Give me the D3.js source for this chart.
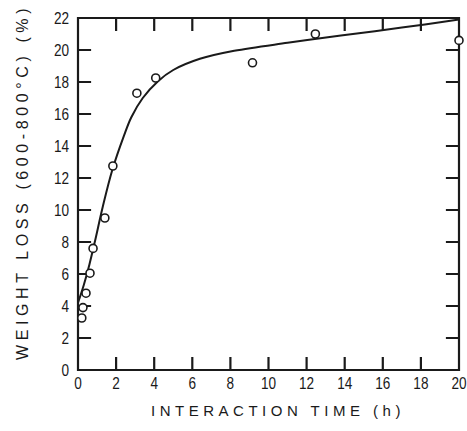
<!DOCTYPE html>
<html>
<head>
<meta charset="utf-8">
<script src="https://cdn.jsdelivr.net/npm/d3@7"></script>
<style>
  html, body { margin: 0; padding: 0; background: #fff; }
  svg { display: block; color: #1a1a1a; }
</style>
</head>
<body>
<svg id="chart" width="467" height="431"></svg>
<script>
// ---- data ----
const pointTime = [0.2, 0.26, 0.42, 0.63, 0.79, 1.41, 1.83, 3.09, 4.08, 9.16, 12.46, 20.0];
const pointLoss = [3.25, 3.9, 4.8, 6.05, 7.6, 9.5, 12.75, 17.3, 18.25, 19.2, 21.0, 20.6];
const curveTime = [0, 0.3, 0.6, 0.9, 1.3, 1.8, 2.4, 2.8, 3.4, 4.2, 5, 6.4, 8.2, 11, 13.8, 17, 20];
const curveLoss = [4.2, 5.3, 6.6, 8.1, 10.2, 12.5, 14.6, 15.8, 17.0, 18.05, 18.75, 19.45, 19.95, 20.45, 20.9, 21.4, 21.9];
const xTicks = [0, 2, 4, 6, 8, 10, 12, 14, 16, 18, 20];
const yTicks = [0, 2, 4, 6, 8, 10, 12, 14, 16, 18, 20, 22];
const xTitle = "INTERACTION TIME (h)";
const yTitle = "WEIGHT LOSS (600-800°C) (%)";

(function () {
const pl = 78, pr = 459, pt = 18, pb = 370;
const svg = d3.select("#chart");
const x = d3.scaleLinear().domain([0, 20]).range([pl, pr]);
const y = d3.scaleLinear().domain([0, 22]).range([pb, pt]);

const ink = "#1a1a1a";
const tickLen = 12;
const inner = xTicks.slice(1, -1);
const innerY = yTicks.slice(1, -1);

// frame + inward ticks in one path, positions from the scales
const p = d3.path();
p.moveTo(pl, pt); p.lineTo(pr, pt); p.lineTo(pr, pb); p.lineTo(pl, pb); p.closePath();
inner.forEach(t => {
  p.moveTo(x(t), pb); p.lineTo(x(t), pb - tickLen);
  p.moveTo(x(t), pt); p.lineTo(x(t), pt + tickLen);
});
innerY.forEach(t => {
  p.moveTo(pl, y(t)); p.lineTo(pl + tickLen, y(t));
  p.moveTo(pr, y(t)); p.lineTo(pr - tickLen, y(t));
});
svg.append("path")
  .attr("d", p.toString())
  .attr("fill", "none").attr("stroke", ink).attr("stroke-width", 2.2)
  .attr("stroke-linecap", "square");

// tick labels (condensed look)
const sx = 0.8;
svg.append("g").selectAll("text").data(xTicks).join("text")
  .attr("transform", d => `translate(${x(d)},${pb + 19}) scale(${sx},1)`)
  .attr("text-anchor", "middle")
  .attr("font-family", "'Liberation Sans', Arial, sans-serif")
  .attr("font-size", 17).attr("fill", ink)
  .text(d => d);
svg.append("g").selectAll("text").data(yTicks).join("text")
  .attr("transform", d => `translate(${pl - 9},${y(d) + 6}) scale(${sx},1)`)
  .attr("text-anchor", "end")
  .attr("font-family", "'Liberation Sans', Arial, sans-serif")
  .attr("font-size", 17).attr("fill", ink)
  .text(d => d);

// axis titles
svg.append("text")
  .attr("x", 278).attr("y", 416)
  .attr("text-anchor", "middle")
  .attr("font-family", "'Liberation Sans', Arial, sans-serif")
  .attr("font-size", 15).attr("letter-spacing", 4.5).attr("fill", ink)
  .text(xTitle);
svg.append("text")
  .attr("transform", "translate(28,182) rotate(-90)")
  .attr("text-anchor", "middle")
  .attr("font-family", "'Liberation Sans', Arial, sans-serif")
  .attr("font-size", 16).attr("letter-spacing", 4.6).attr("fill", ink)
  .text(yTitle);

// fitted curve
const line = d3.line()
  .x((d, i) => x(curveTime[i]))
  .y((d, i) => y(curveLoss[i]))
  .curve(d3.curveCatmullRom.alpha(0.5));
svg.append("path")
  .attr("d", line(curveTime))
  .attr("fill", "none").attr("stroke", ink).attr("stroke-width", 2);

// data points
svg.append("g").selectAll("circle").data(pointTime).join("circle")
  .attr("cx", d => x(d))
  .attr("cy", (d, i) => y(pointLoss[i]))
  .attr("r", 4)
  .attr("fill", "#fff").attr("stroke", ink).attr("stroke-width", 1.6);
})();
</script>
</body>
</html>
